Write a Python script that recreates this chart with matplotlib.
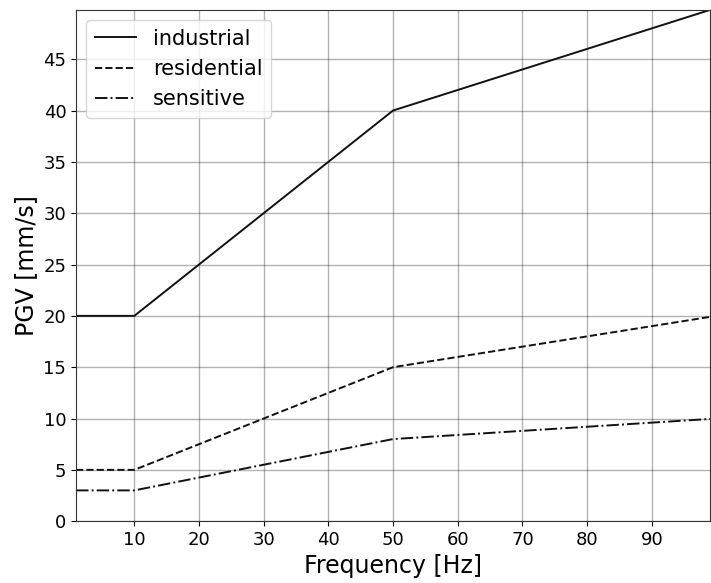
import matplotlib
matplotlib.use("Agg")
import matplotlib.pyplot as plt

freq = [1, 10, 50, 99]
industrial = [20, 20, 40, 49.8]
residential = [5, 5, 15, 19.9]
sensitive = [3, 3, 8, 9.96]
xticks = [10, 20, 30, 40, 50, 60, 70, 80, 90]
yticks = [0, 5, 10, 15, 20, 25, 30, 35, 40, 45]

fig = plt.figure(figsize=(7.11, 5.83), dpi=100)
ax = fig.add_axes([0.107, 0.106, 0.8916, 0.877])
ax.plot(freq, industrial, "-", color="#111111", lw=1.4, label="industrial")
ax.plot(freq, residential, "--", color="#111111", lw=1.4, label="residential")
ax.plot(freq, sensitive, "-.", color="#111111", lw=1.4, label="sensitive")
ax.set_xlim(freq[0], freq[-1])
ax.set_ylim(0, max(industrial))
ax.set_xticks(xticks)
ax.set_yticks(yticks)
ax.tick_params(labelsize=13)
ax.grid(True, color="black", alpha=0.3, lw=1.0)
for s in ax.spines.values():
    s.set_color("#333333")
ax.set_xlabel("Frequency [Hz]", fontsize=17)
ax.set_ylabel("PGV [mm/s]", fontsize=17)
ax.legend(loc="upper left", fontsize=15)
fig.savefig("out.png", dpi=100)
